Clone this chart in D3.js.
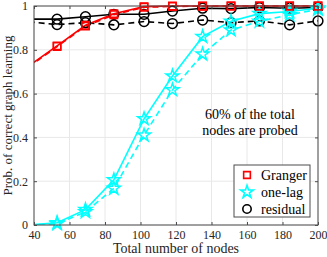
<!DOCTYPE html>
<html>
<head>
<meta charset="utf-8">
<script src="https://cdn.jsdelivr.net/npm/d3@7"></script>
<style>
body { margin: 0; background: #fff; }
svg text { font-family: "Liberation Serif", "DejaVu Serif", serif !important; }
</style>
</head>
<body>
<div id="chart"></div>
<script>
// x positions (first one sits just left of the axis and gets clipped)
var nodes = [37, 53, 69, 85, 102, 118, 135, 151, 167, 184, 200];

var grangerSolid = [0.726, 0.818, 0.912, 0.965, 0.997, 1.0, 1.0, 1.0, 1.0, 1.0, 1.0];
var grangerDash  = [0.722, 0.815, 0.908, 0.960, 0.994, 0.998, 0.999, 1.0, 1.0, 1.0, 1.0];
var onelagSolid  = [0, 0.010, 0.070, 0.206, 0.485, 0.680, 0.860, 0.930, 0.965, 0.975, 0.990];
var onelagDash   = [0, 0.005, 0.060, 0.167, 0.410, 0.617, 0.780, 0.890, 0.930, 0.960, 0.985];
var residSolid   = [0.940, 0.940, 0.951, 0.962, 0.962, 0.977, 0.990, 0.988, 0.993, 0.990, 0.993];
var residDash    = [0.928, 0.915, 0.924, 0.914, 0.929, 0.920, 0.936, 0.924, 0.932, 0.914, 0.932];

var xTicks = [40, 60, 80, 100, 120, 140, 160, 180, 200];
var yTicks = [0, 0.2, 0.4, 0.6, 0.8, 1];

var width = 327, height = 257;
var margin = { top: 6, right: 9, bottom: 32, left: 34 };
var plotW = width - margin.left - margin.right;
var plotH = height - margin.top - margin.bottom;
var serif = "Liberation Serif";

var svg = d3.select("#chart").append("svg")
    .attr("width", width)
    .attr("height", height)
    .attr("font-family", serif);

var g = svg.append("g")
    .attr("transform", "translate(" + margin.left + "," + margin.top + ")");

var x = d3.scaleLinear().domain([40, 200]).range([0, plotW]);
var y = d3.scaleLinear().domain([0, 1]).range([plotH, 0]);

// grid
g.selectAll(".vgrid").data(xTicks).enter().append("line")
    .attr("x1", function(d) { return x(d); })
    .attr("x2", function(d) { return x(d); })
    .attr("y1", 0).attr("y2", plotH)
    .style("stroke", "#e8e8e8");
g.selectAll(".hgrid").data(yTicks).enter().append("line")
    .attr("y1", function(d) { return y(d); })
    .attr("y2", function(d) { return y(d); })
    .attr("x1", 0).attr("x2", plotW)
    .style("stroke", "#e8e8e8");

svg.append("clipPath").attr("id", "clip")
    .append("rect").attr("width", plotW).attr("height", plotH + 2).attr("y", -2);

var series = [
    { vals: residDash,   color: "#000", dash: "6,4", sym: d3.symbolCircle, size: 75 },
    { vals: residSolid,  color: "#000", dash: null,  sym: d3.symbolCircle, size: 75 },
    { vals: onelagDash,  color: "#00ffff", dash: "6,4", sym: d3.symbolStar, size: 52 },
    { vals: onelagSolid, color: "#00ffff", dash: null,  sym: d3.symbolStar, size: 52 },
    { vals: grangerDash, color: "#ff0000", dash: "6,4", sym: d3.symbolSquare, size: 55 },
    { vals: grangerSolid,color: "#ff0000", dash: null,  sym: d3.symbolSquare, size: 55 }
];

var line = d3.line()
    .x(function(d) { return x(d.x); })
    .y(function(d) { return y(d.y); });

var plot = g.append("g").attr("clip-path", "url(#clip)");

series.forEach(function(s) {
    var pts = nodes.map(function(n, i) { return { x: n, y: s.vals[i] }; });
    plot.append("path")
        .attr("d", line(pts))
        .style("fill", "none")
        .style("stroke", s.color)
        .style("stroke-width", 1.6)
        .style("stroke-dasharray", s.dash);
    g.selectAll(null).data(pts.filter(function(p) { return p.x >= 40; })).enter()
        .append("path")
        .attr("d", d3.symbol().type(s.sym).size(s.size))
        .attr("transform", function(p) { return "translate(" + x(p.x) + "," + y(p.y) + ")"; })
        .style("fill", "none")
        .style("stroke", s.color)
        .style("stroke-width", 1.5);
});

// axes box
var axisColor = "#4d4d4d";
g.append("rect")
    .attr("width", plotW).attr("height", plotH)
    .style("fill", "none").style("stroke", axisColor).style("stroke-width", 1);

g.append("g").attr("transform", "translate(0," + plotH + ")")
    .call(d3.axisBottom(x).tickValues(xTicks).tickSizeInner(-3).tickSizeOuter(0).tickPadding(5));
g.append("g")
    .call(d3.axisLeft(y).tickValues(yTicks).tickSizeInner(-3).tickSizeOuter(0).tickPadding(6)
        .tickFormat(function(d) { return d === 0 || d === 1 ? d : d3.format(".1f")(d); }));
g.append("g").attr("transform", "translate(" + plotW + ",0)")
    .call(d3.axisRight(y).tickValues(yTicks).tickSizeInner(-3).tickSizeOuter(0).tickFormat(""));
g.append("g")
    .call(d3.axisTop(x).tickValues(xTicks).tickSizeInner(-3).tickSizeOuter(0).tickFormat(""));

g.selectAll(".domain").remove();
g.selectAll("g").attr("font-family", serif);
g.selectAll(".tick line").style("stroke", axisColor);
g.selectAll(".tick text")
    .attr("font-family", serif)
    .attr("font-size", 12)
    .style("fill", "#262626");

// axis labels
svg.append("text")
    .attr("x", margin.left + plotW / 2)
    .attr("y", 253)
    .attr("text-anchor", "middle")
    .attr("font-family", serif)
    .attr("font-size", 14)
    .style("fill", "#262626")
    .text("Total number of nodes");

svg.append("text")
    .attr("transform", "translate(12," + (margin.top + plotH / 2) + ") rotate(-90)")
    .attr("text-anchor", "middle")
    .attr("font-family", serif)
    .attr("font-size", 13)
    .style("fill", "#262626")
    .text("Prob. of correct graph learning");

// annotation
var note = svg.append("text")
    .attr("text-anchor", "middle")
    .attr("font-family", serif)
    .attr("font-size", 14)
    .style("fill", "#000");
note.append("tspan").attr("x", 250).attr("y", 119).text("60% of the total");
note.append("tspan").attr("x", 250).attr("y", 135).text("nodes are probed");

// legend
var legendItems = [
    { label: "Granger", color: "#ff0000", sym: d3.symbolSquare, size: 45 },
    { label: "one-lag", color: "#00ffff", sym: d3.symbolStar, size: 50 },
    { label: "residual", color: "#000", sym: d3.symbolCircle, size: 55 }
];
var leg = svg.append("g").attr("transform", "translate(234,165)");
leg.append("rect")
    .attr("width", 76).attr("height", 52)
    .style("fill", "#fff").style("stroke", axisColor).style("stroke-width", 1);
legendItems.forEach(function(d, i) {
    var yy = 10 + i * 17;
    leg.append("path")
        .attr("d", d3.symbol().type(d.sym).size(d.size))
        .attr("transform", "translate(13," + yy + ")")
        .style("fill", "none")
        .style("stroke", d.color)
        .style("stroke-width", 1.6);
    leg.append("text")
        .attr("x", 27).attr("y", yy + 4.5)
        .attr("font-family", serif)
        .attr("font-size", 14)
        .style("fill", "#000")
        .text(d.label);
});
</script>
</body>
</html>
